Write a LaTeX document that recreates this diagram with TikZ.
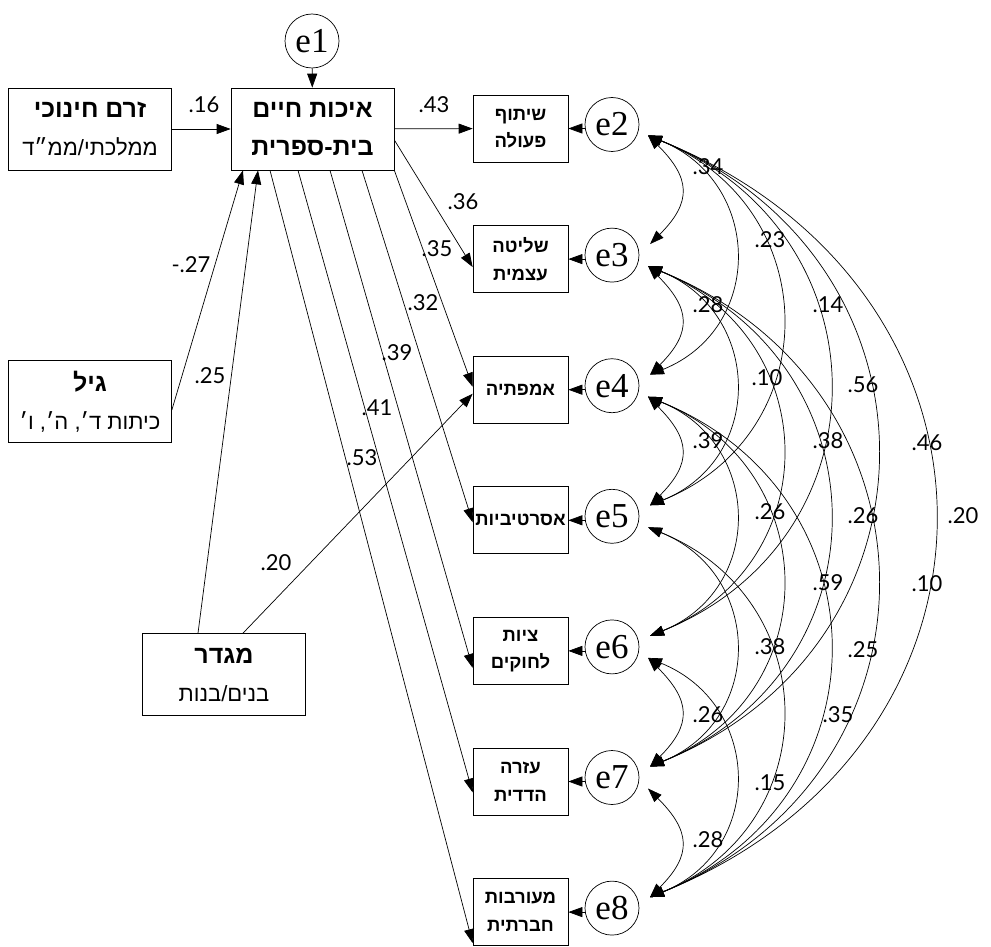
\documentclass[tikz,border=0pt]{standalone}
\usepackage{fontspec}
\setmainfont{Liberation Serif}
\newfontfamily\hebfont[Script=Hebrew]{Liberation Sans}
\newfontfamily\numfont{Lato}
\TeXXeTstate=1
\usetikzlibrary{arrows.meta,positioning,calc}
\newcommand\rtline[1]{\beginR #1\endR}
\newcommand\hdline[1]{{\bfseries\fontsize{25}{38}\selectfont\rtline{#1}}}
\tikzset{
  obsbig/.style ={draw,line width=0.7pt,minimum width=163pt,minimum height=82pt,inner sep=0pt,align=center,
                  font=\hebfont\fontsize{22}{38}\selectfont},
  obs/.style    ={draw,line width=0.7pt,minimum width=95pt,minimum height=67pt,inner sep=0pt,align=center,
                  font=\hebfont\bfseries\fontsize{18.5}{27.5}\selectfont},
  err/.style    ={circle,draw,line width=0.7pt,minimum size=54pt,inner sep=0pt,font=\fontsize{35}{35}\selectfont},
  reg/.style    ={line width=0.7pt,-{Triangle[length=14pt,width=10pt]}},
  cov/.style    ={line width=0.7pt,{Triangle[length=14pt,width=10pt]}-{Triangle[length=14pt,width=10pt]}},
  coef/.style   ={font=\numfont\fontsize{22}{22}\selectfont,inner sep=0pt},
}
\begin{document}
\begin{tikzpicture}[x=1pt,y=1pt]
  \path[use as bounding box,fill=white] (0,0) rectangle (991,-947);
  % exogenous and mediator
  \node[obsbig] (zerem)  at (90,-129)    {\hdline{זרם חינוכי}\\\rtline{ממלכתי/ממ״ד}};
  \node[obsbig] (eichut) at (312.5,-129) {\hdline{איכות חיים}\\\hdline{בית-ספרית}};
  \node[obsbig] (gil)    at (90,-401.5)  {\hdline{גיל}\\\rtline{כיתות ד׳\hbox{,} ה׳\hbox{,} ו׳}};
  \node[obsbig] (migdar) at (224,-674.5) {\hdline{מגדר}\\\rtline{בנים/בנות}};
  \node[err] (e1) at (312,-41) {e1};
  % outcomes with their errors
  \foreach \i/\txt in {1/{\rtline{שיתוף}\\\rtline{פעולה}},2/{\rtline{שליטה}\\\rtline{עצמית}},
                       3/{\rtline{אמפתיה}},4/{\rtline{אסרטיביות}},
                       5/{\rtline{ציות}\\\rtline{לחוקים}},6/{\rtline{עזרה}\\\rtline{הדדית}},
                       7/{\rtline{מעורבות}\\\rtline{חברתית}}}{
     \pgfmathtruncatemacro\e{\i+1}
     \node[obs] (b\i) at (520.5,{-128.5-130.6*(\i-1)}) {\txt};
     \node[err] (e\e) at (612,{-124.5-130.6*(\i-1)}) {e\e};
     \draw[reg] (e\e.west |- b\i.east) -- (b\i.east);
     \coordinate (u\e) at ([shift={(38,11)}]e\e.center);
     \coordinate (l\e) at ([shift={(36,-11)}]e\e.center);
  }
  % regressions
  \draw[reg] (e1) -- (eichut);
  \draw[reg] (zerem) -- (eichut);
  \draw[reg] ([yshift=-8.5]gil.east) -- ([xshift=-69.5]eichut.south);
  \draw[reg] ([xshift=-26]migdar.north) -- ([xshift=-54.5]eichut.south);
  \draw[reg] ([xshift=19]migdar.north) -- ([yshift=-4]b3.west);
  \draw[reg] (eichut) -- (b1);
  \draw[reg] ([yshift=-11]eichut.east) -- ([yshift=-8]b2.west);
  \draw[reg] (eichut.south east) -- ([yshift=3]b3.west);
  \draw[reg] ([xshift=49.5]eichut.south) -- ([yshift=-2]b4.west);
  \draw[reg] ([xshift=17.5]eichut.south) -- ([yshift=-17]b5.west);
  \draw[reg] ([xshift=-14.5]eichut.south) -- ([yshift=-11]b6.west);
  \draw[reg] ([xshift=-42.5]eichut.south) -- ([yshift=-31]b7.west);
  % covariances between errors
  \foreach \a/\b in {2/3,3/4,4/5,6/7,7/8}
     \draw[cov] (l\a) to[out=-45,in=45,distance=60pt] (u\b);
  \foreach \a/\b/\d in {2/4/124,3/5/124,4/6/124,5/7/124,6/8/124,
                        2/5/191,3/6/191,4/7/191,5/8/191,
                        2/6/259,3/7/259,4/8/259,
                        2/7/327,3/8/327,
                        2/8/410}
     \draw[cov] (l\a) to[out=-22,in=22,distance=\d pt] (u\b);
  % coefficients
  \foreach \x/\y/\v [count=\k] in {204/105/.16,434/105/.43,463/202/.36,191/265/-.27,437/249/.35,
        423/303/.32,397/353/.39,210/376/.25,377/408/.41,362/458/.53,276/563/.20,
        708/167/.34,770/240/.23,708/305/.28,828/305/.14,767/378/.10,863/385/.56,
        708/441/.39,828/441/.38,927/443/.46,770/512/.26,863/516/.26,963/516/.20,
        828/583/.59,927/584/.10,770/647/.38,863/650/.25,708/715/.26,838/715/.35,
        770/783/.15,708/840/.28}
     \node[coef] (c\k) at (\x,-\y) {\v};
\end{tikzpicture}
\end{document}
